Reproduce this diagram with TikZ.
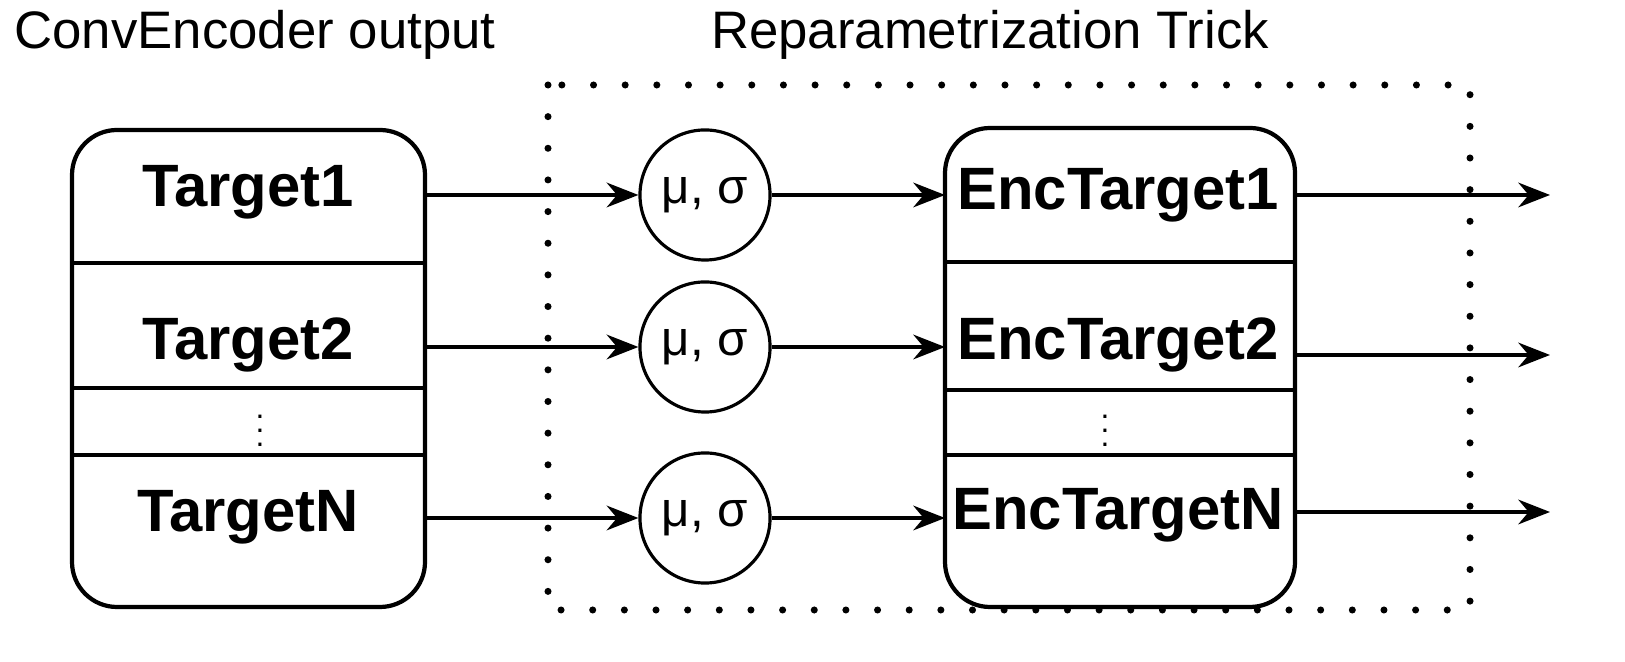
\documentclass[tikz,border=0pt]{standalone}
\usepackage{fontspec}
\setmainfont{Liberation Sans}
\usetikzlibrary{arrows.meta}
\begin{document}
\begin{tikzpicture}[x=0.01cm,y=-0.01cm,
  box/.style={draw,line width=1.2pt,rounded corners=0.45cm},
  lbl/.style={font=\fontsize{17}{19}\selectfont\bfseries},
  circ/.style={draw,circle,line width=0.9pt,minimum size=1.3cm,inner sep=0pt,font=\fontsize{14}{16}\selectfont},
  arr/.style={-{Stealth[length=9pt,width=7pt]},line width=1.1pt},
  vd/.style={inner sep=0pt,font=\small},
  ttl/.style={font=\fontsize{15}{18}\selectfont}]
\useasboundingbox (0,0) rectangle (1625,662);
\draw[line width=2pt,line cap=round,dash pattern=on 0pt off 9pt] (548,85) rectangle (1470,610);
\node[ttl] (t1) at (255,35) {ConvEncoder output};
\node[ttl] (t2) at (990,35) {Reparametrization Trick};
\draw[box] (72,130) rectangle (425,607);
\draw[line width=1.2pt] (72,263) -- (425,263) (72,388) -- (425,388) (72,455) -- (425,455);
\draw[box] (945,128) rectangle (1295,607);
\draw[line width=1.2pt] (945,262) -- (1295,262) (945,390) -- (1295,390) (945,455) -- (1295,455);
\node[lbl] (a1) at (248,192) {Target1};
\node[lbl] (a2) at (248,345) {Target2};
\node[vd] (ad) at (260,420) {$\vdots$};
\node[lbl] (aN) at (248,517) {TargetN};
\node[lbl] (b1) at (1118,195) {EncTarget1};
\node[lbl] (b2) at (1118,345) {EncTarget2};
\node[vd] (bd) at (1105,420) {$\vdots$};
\node[lbl] (bN) at (1118,515) {EncTargetN};
\node[circ] (c1) at (705,195) {μ, σ};
\node[circ] (c2) at (705,347) {μ, σ};
\node[circ] (c3) at (705,518) {μ, σ};
\coordinate (o1) at (1550,195);
\coordinate (o2) at (1550,355);
\coordinate (o3) at (1550,512);
\draw[arr] (425,195) -- (c1.west);
\draw[arr] (425,347) -- (c2.west);
\draw[arr] (425,518) -- (c3.west);
\draw[arr] (c1.east) -- (945,195);
\draw[arr] (c2.east) -- (945,347);
\draw[arr] (c3.east) -- (945,518);
\draw[arr] (1295,195) -- (o1);
\draw[arr] (1295,355) -- (o2);
\draw[arr] (1295,512) -- (o3);
\end{tikzpicture}
\end{document}
